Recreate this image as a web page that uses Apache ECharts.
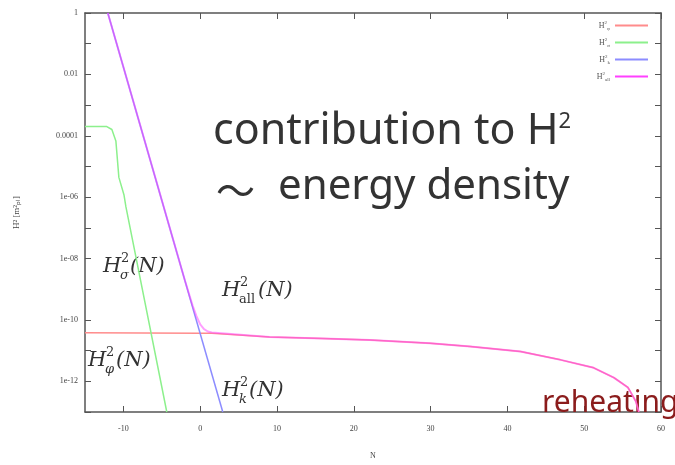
<!DOCTYPE html>
<html><head><meta charset="utf-8">
<script src="https://cdn.jsdelivr.net/npm/echarts@6/dist/echarts.min.js"></script>
<style>html,body{margin:0;padding:0;background:#fff}#c{width:675px;height:465px}</style>
</head><body><div id="c"></div>
<script>
// ---- data (N, H^2 in m_pl^2) ----
const nPhi = [-15, 0, 1.5, 9.02, 15.95, 22.09, 29.93, 35.16, 41.7, 46.93, 51.24, 53.86, 55.69, 56.73, 57.12];
const hPhi = [3.8e-11, 3.7e-11, 3.65e-11, 2.8e-11, 2.5e-11, 2.2e-11, 1.74e-11, 1.35e-11, 9.3e-12, 5.0e-12, 2.75e-12, 1.32e-12, 6.3e-13, 2.2e-13, 1e-13];
const nSigma = [-15, -12.16, -11.5, -10.98, -10.59, -9.93, -9.67, -4.35];
const hSigma = [2.0e-4, 2.0e-4, 1.6e-4, 6.8e-5, 4.4e-6, 1.2e-6, 4.8e-7, 1e-13];
const nK = [-12.03, 2.94];
const hK = [1, 1e-13];
const nAll = [-12.03, -6, -2, -1, -0.5, 0, 0.5, 1, 1.5, 9.02, 15.95, 22.09, 29.93, 35.16, 41.7, 46.93, 51.24, 53.86, 55.69, 56.73, 57.12];
const hAll = [1, 5.9e-6, 1.95e-9, 3.0e-10, 1.35e-10, 7.2e-11, 5.0e-11, 4.2e-11, 3.9e-11, 2.8e-11, 2.5e-11, 2.2e-11, 1.74e-11, 1.35e-11, 9.3e-12, 5.0e-12, 2.75e-12, 1.32e-12, 6.3e-13, 2.2e-13, 1e-13];
const seriesNames = ['phi', 'sigma', 'k', 'all'];
const legendSubs = ['φ', 'σ', 'k', 'all'];
const xTicks = [-10, 0, 10, 20, 30, 40, 50, 60];
const yTickExps = [-12, -10, -8, -6, -4, -2, 0];
const yTickLabels = ['1e-12', '1e-10', '1e-08', '1e-06', '0.0001', '0.01', '1'];

const toPts = (ns, hs) => ns.map((n, i) => [n, Math.log10(hs[i])]);
const chart = echarts.init(document.getElementById('c'), null, {renderer: 'canvas'});
const axisCol = '#555';
const tickFont = {fontFamily: '"Liberation Serif", serif', fontSize: 8, color: '#444'};

function xAx(pos, labels) {
  return {type: 'value', position: pos, min: -15, max: 60,
    axisLine: {show: true, onZero: false, lineStyle: {color: axisCol, width: 1.5}},
    axisTick: {show: true, inside: true, length: 6, customValues: xTicks, lineStyle: {color: axisCol}},
    axisLabel: Object.assign({show: labels, customValues: xTicks, margin: 13}, tickFont),
    splitLine: {show: false},
    name: labels ? 'N' : '', nameLocation: 'middle', nameGap: 40,
    nameTextStyle: {fontFamily: '"Liberation Serif", serif', fontSize: 8, color: '#444'}};
}
function yAx(pos, labels) {
  return {type: 'value', position: pos, min: -13, max: 0, interval: 1,
    axisLine: {show: true, onZero: false, lineStyle: {color: axisCol, width: 1.5}},
    axisTick: {show: true, inside: true, length: 6, lineStyle: {color: axisCol}},
    axisLabel: Object.assign({show: labels, customValues: yTickExps, margin: 7,
      formatter: v => yTickLabels[yTickExps.indexOf(Math.round(v))]}, tickFont),
    splitLine: {show: false},
    name: labels ? 'H² [m²ₚₗ]' : '', nameLocation: 'middle', nameGap: 64, nameRotate: 90,
    nameTextStyle: {fontFamily: '"Liberation Serif", serif', fontSize: 9, color: '#444'}};
}

function hLabel(x, y, sub, subItalic, subW) {
  const f = 'italic 21px "DejaVu Serif"';
  return {type: 'group', x: x, y: y, silent: true, children: [
    {type: 'text', x: 0, y: 0, style: {text: 'H', font: f, fill: '#333', textVerticalAlign: 'middle'}},
    {type: 'text', x: 18, y: -8, style: {text: '2', font: '13px "DejaVu Serif"', fill: '#333', textVerticalAlign: 'middle'}},
    {type: 'text', x: 17, y: 9, style: {text: sub, font: (subItalic ? 'italic ' : '') + '13px "DejaVu Serif"', fill: '#333', textVerticalAlign: 'middle'}},
    {type: 'text', x: 18 + subW + 1, y: 0, style: {text: '(N)', font: f, fill: '#333', textVerticalAlign: 'middle'}}
  ]};
}

const colors = ['#ff8c8c', '#8cf08c', '#8c8cff', '#ff40ff'];
const data = [toPts(nPhi, hPhi), toPts(nSigma, hSigma), toPts(nK, hK), toPts(nAll, hAll)];

chart.setOption({
  animation: false,
  backgroundColor: '#fff',
  grid: {left: 85, right: 14, top: 13, bottom: 47, containLabel: false},
  xAxis: [xAx('bottom', true), xAx('top', false)],
  yAxis: [yAx('left', true), yAx('right', false)],
  legend: {
    data: seriesNames, orient: 'vertical', right: 27, top: 20, padding: 0, itemWidth: 33, itemHeight: 2,
    itemGap: 6, align: 'right', icon: 'rect', selectedMode: false,
    formatter: name => '{h|H}{s|2}{b|' + legendSubs[seriesNames.indexOf(name)] + '}',
    textStyle: {color: '#555', fontFamily: '"Liberation Serif", serif', fontSize: 8,
      rich: {h: {fontSize: 8, lineHeight: 11}, s: {fontSize: 5, verticalAlign: 'top'}, b: {fontSize: 5, verticalAlign: 'bottom'}}}
  },
  series: seriesNames.map((nm, i) => ({
    name: nm, type: 'line', data: data[i], showSymbol: false, symbol: 'none', clip: true,
    color: colors[i],
    lineStyle: {color: colors[i], width: i === 3 ? 2 : 1.5, opacity: i === 3 ? 0.5 : 1},
    z: 2 + i
  })),
  graphic: [
    hLabel(103, 267, 'σ', true, 8),
    hLabel(222, 291, 'all', false, 17),
    hLabel(88, 361, 'φ', true, 9),
    hLabel(222, 391, 'k', true, 8),
    {type: 'text', x: 213, y: 132, z: 10, silent: true, style: {
      text: '{m|contribution to H}{s|2}', textVerticalAlign: 'middle',
      rich: {m: {fontFamily: '"Noto Sans"', fontSize: 43, fill: '#333', color: '#333'},
             s: {fontFamily: '"Noto Sans"', fontSize: 22, fill: '#333', color: '#333', verticalAlign: 'top'}}}},
    {type: 'text', x: 216, y: 190, z: 10, silent: true, style: {
      text: '〜', font: '39px "Noto Sans CJK JP"', fill: '#333', textVerticalAlign: 'middle'}},
    {type: 'text', x: 278, y: 187, z: 10, silent: true, style: {
      text: 'energy density', font: '42px "Noto Sans"', fill: '#333', textVerticalAlign: 'middle'}},
    {type: 'text', x: 542, y: 403, z: 1, silent: true, style: {
      text: 'reheating', font: '30px "Noto Sans"', fill: '#8b1c1c', textVerticalAlign: 'middle'}}
  ]
});
</script></body></html>
